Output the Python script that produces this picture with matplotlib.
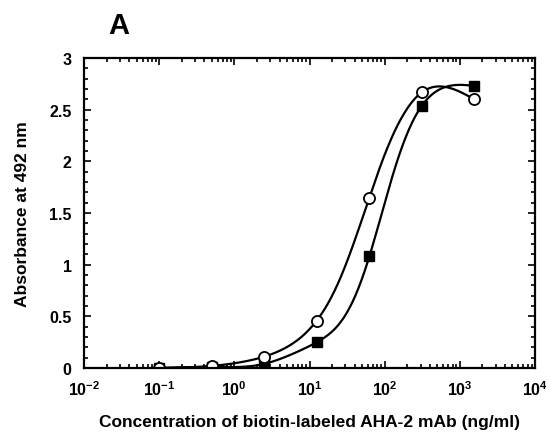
import matplotlib
matplotlib.use('Agg')
import matplotlib.pyplot as plt
import numpy as np
from matplotlib.ticker import LogLocator, MultipleLocator, NullFormatter

plt.rcParams['font.family'] = ['Liberation Sans', 'DejaVu Sans']
plt.rcParams['font.weight'] = 'bold'

# concentration (ng/ml) and absorbance
conc = [0.1, 0.5, 2.5, 12.5, 62.5, 312.5, 1562.5]
abs_circle = [0.0, 0.02, 0.11, 0.46, 1.65, 2.67, 2.60]
abs_square = [0.0, 0.01, 0.04, 0.25, 1.08, 2.54, 2.73]


def natural_spline(x, y, xs):
    # natural cubic spline, plain numpy
    x = np.asarray(x, float)
    y = np.asarray(y, float)
    n = len(x)
    h = np.diff(x)
    A = np.zeros((n, n))
    r = np.zeros(n)
    A[0, 0] = A[-1, -1] = 1
    for i in range(1, n - 1):
        A[i, i - 1] = h[i - 1]
        A[i, i] = 2 * (h[i - 1] + h[i])
        A[i, i + 1] = h[i]
        r[i] = 3 * ((y[i + 1] - y[i]) / h[i] - (y[i] - y[i - 1]) / h[i - 1])
    c = np.linalg.solve(A, r)
    b = (y[1:] - y[:-1]) / h - h * (2 * c[:-1] + c[1:]) / 3
    d = (c[1:] - c[:-1]) / (3 * h)
    idx = np.clip(np.searchsorted(x, xs) - 1, 0, n - 2)
    dx = xs - x[idx]
    return y[idx] + b[idx] * dx + c[idx] * dx ** 2 + d[idx] * dx ** 3


def fit_curve(lx, y, xs):
    # 4-parameter logistic in log10(x), grid search, plus spline of residuals
    y = np.asarray(y, float)
    best = None
    for lc in np.linspace(0.5, 3.0, 126):
        for b in np.linspace(0.5, 4.0, 71):
            g = 1 / (1 + 10 ** (b * (lx - lc)))
            M = np.column_stack([g, 1 - g])
            coef, *_ = np.linalg.lstsq(M, y, rcond=None)
            err = np.sum((M @ coef - y) ** 2)
            if best is None or err < best[0]:
                best = (err, lc, b, coef)
    _, lc, b, coef = best

    def model(t):
        g = 1 / (1 + 10 ** (b * (t - lc)))
        return coef[0] * g + coef[1] * (1 - g)

    resid = y - model(lx)
    return model(xs) + natural_spline(lx, resid, xs)


fig = plt.figure(figsize=(5.51, 4.35), dpi=100)
ax = fig.add_axes([0.1525, 0.1517, 0.8185, 0.7123])

lx = np.log10(conc)
xs = np.linspace(lx[0], lx[-1], 400)
ax.plot(10 ** xs, fit_curve(lx, abs_circle, xs), color='black', lw=1.6)
ax.plot(10 ** xs, fit_curve(lx, abs_square, xs), color='black', lw=1.6)
ax.plot(conc, abs_square, 's', color='black', ms=7, ls='none')
ax.plot(conc, abs_circle, 'o', mfc='white', mec='black', mew=1.3, ms=8, ls='none')

ax.set_xscale('log')
ax.set_xlim(1e-2, 1e4)
ax.set_ylim(0, 3)
ax.xaxis.set_major_locator(LogLocator(base=10, numticks=10))
ax.xaxis.set_minor_locator(LogLocator(base=10, subs=np.arange(2, 10), numticks=10))
ax.xaxis.set_minor_formatter(NullFormatter())
ax.yaxis.set_minor_locator(MultipleLocator(0.1))
ax.set_yticks([0, 0.5, 1, 1.5, 2, 2.5, 3])
ax.set_yticklabels(['0', '0.5', '1', '1.5', '2', '2.5', '3'])

ax.tick_params(which='both', direction='in', top=True, right=True, width=1.2,
               labelsize=11.5)
ax.tick_params(which='major', length=5)
ax.tick_params(which='minor', length=3)
ax.tick_params(axis='x', pad=8)
ax.tick_params(axis='y', pad=9)
for s in ax.spines.values():
    s.set_linewidth(1.6)

ax.set_xlabel('Concentration of biotin-labeled AHA-2 mAb (ng/ml)', fontsize=12.5,
              fontweight='bold', labelpad=12)
ax.set_ylabel('Absorbance at 492 nm', fontsize=12.5, fontweight='bold', labelpad=14)
fig.text(0.216, 0.94, 'A', fontsize=21, fontweight='bold', ha='center', va='center')

fig.savefig('out.png', dpi=100)
